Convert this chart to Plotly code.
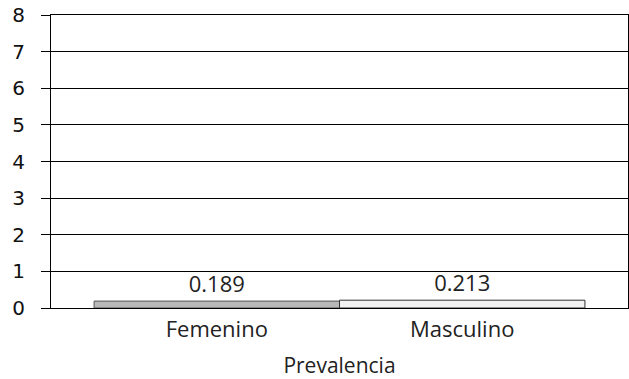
import plotly.graph_objects as go

categories = ["Femenino", "Masculino"]
values = [0.189, 0.213]
value_labels = ["0.189", "0.213"]
group_label = "Prevalencia"
y_ticks = [0, 1, 2, 3, 4, 5, 6, 7, 8]

fills = ["#b8b8b8", "#f2f2f2"]
lines = ["#555555", "#333333"]
label_font = "Open Sans, sans-serif"

fig = go.Figure()
for i, (cat, v, lab) in enumerate(zip(categories, values, value_labels)):
    fig.add_trace(go.Bar(
        x=[i], y=[v], width=[1.0], name=cat,
        marker=dict(color=fills[i], line=dict(color=lines[i], width=1)),
        text=[lab], textposition="outside", cliponaxis=False,
        textfont=dict(family=label_font, size=22, color="#222222"),
        showlegend=False,
    ))

fig.update_layout(
    width=629, height=379,
    margin=dict(l=51, r=1, t=15, b=71),
    paper_bgcolor="white", plot_bgcolor="white",
    barmode="overlay",
    xaxis=dict(
        range=[-0.6755, 1.6755], automargin=False,
        tickmode="array", tickvals=list(range(len(categories))), ticktext=categories,
        showgrid=False, zeroline=False, showline=True, linecolor="black", linewidth=1,
        mirror=True, ticks="", ticklabelstandoff=2,
        tickfont=dict(family=label_font, size=22, color="#222222"),
        title=dict(text=group_label, standoff=16,
                   font=dict(family=label_font, size=21, color="#222222")),
    ),
    yaxis=dict(
        range=[0, 8], tickmode="array", tickvals=y_ticks, automargin=False,
        showgrid=True, gridcolor="black", gridwidth=1,
        zeroline=False, showline=True, linecolor="black", linewidth=1, mirror=True,
        ticks="outside", ticklen=9, tickcolor="black", ticklabelstandoff=12,
        tickfont=dict(family="DejaVu Sans, sans-serif", size=20, color="#111111"),
    ),
)

fig.write_html("out.html", config={"displayModeBar": False},
               post_script="document.body.style.margin='0';")
